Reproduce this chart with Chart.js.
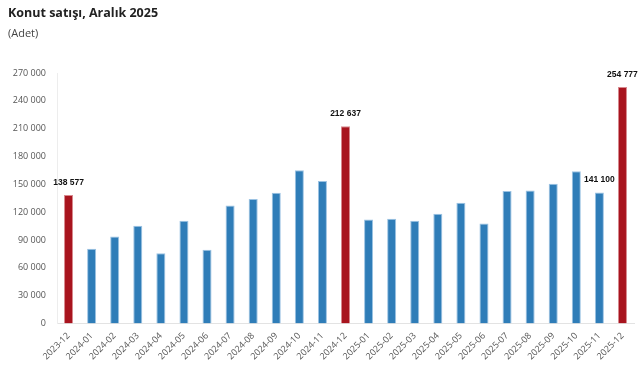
<!DOCTYPE html>
<html>
<head>
<meta charset="utf-8">
<script src="https://cdn.jsdelivr.net/npm/chart.js@4.4.1/dist/chart.umd.min.js"></script>
<style>
  html, body { margin: 0; padding: 0; background: #fff; }
  #wrap { position: relative; width: 640px; height: 369px; }
  #title { position: absolute; left: 8px; top: 4px; font: bold 12.5px "Open Sans", sans-serif; color: #222; white-space: nowrap; }
  #sub { position: absolute; left: 8px; top: 25px; font: 11px "Open Sans", sans-serif; color: #444; white-space: nowrap; }
  canvas { position: absolute; left: 0; top: 0; }
</style>
</head>
<body>
<div id="wrap">
  <canvas id="c" width="640" height="369"></canvas>
  <div id="title">Konut satışı, Aralık 2025</div>
  <div id="sub">(Adet)</div>
</div>
<script>
const categories = ["2023-12","2024-01","2024-02","2024-03","2024-04","2024-05","2024-06","2024-07","2024-08","2024-09","2024-10","2024-11","2024-12","2025-01","2025-02","2025-03","2025-04","2025-05","2025-06","2025-07","2025-08","2025-09","2025-10","2025-11","2025-12"];
const sales = [138577, 80500, 93800, 105400, 75600, 110800, 79600, 127300, 134100, 140900, 165300, 153500, 212637, 112200, 113000, 110800, 118300, 130200, 107900, 142700, 143400, 150600, 164200, 141100, 254777];
const labelledCategories = ["2023-12", "2024-12", "2025-11", "2025-12"];
const yTicks = [0, 30000, 60000, 90000, 120000, 150000, 180000, 210000, 240000, 270000];

function fmt(v) { return String(v).replace(/\B(?=(\d{3})+(?!\d))/g, ' '); }
const isDec = c => c.endsWith('-12');

const labelPlugin = {
  id: 'valueLabels',
  afterDatasetsDraw(chart) {
    const ctx = chart.ctx;
    const meta = chart.getDatasetMeta(0);
    ctx.save();
    ctx.font = 'bold 8.5px "Liberation Sans", Arial, sans-serif';
    ctx.fillStyle = '#111';
    ctx.textAlign = 'center';
    ctx.textBaseline = 'middle';
    meta.data.forEach((el, i) => {
      if (labelledCategories.includes(categories[i])) {
        ctx.fillText(fmt(sales[i]), el.x, el.y - 12.5);
      }
    });
    ctx.restore();
  }
};

new Chart(document.getElementById('c'), {
  type: 'bar',
  data: {
    labels: categories,
    datasets: [{
      data: sales,
      backgroundColor: categories.map(c => isDec(c) ? '#A8141E' : '#2F7DB8'),
      borderColor: categories.map(c => isDec(c) ? '#D88A8F' : '#9CC3E3'),
      borderWidth: 1,
      categoryPercentage: 0.8,
      barPercentage: 0.49
    }]
  },
  options: {
    responsive: false,
    animation: false,
    layout: { padding: { top: 73, right: 6, bottom: 0, left: 8 } },
    plugins: { legend: { display: false }, tooltip: { enabled: false } },
    scales: {
      x: {
        grid: { display: false, drawTicks: false },
        border: { display: true, color: '#E3E3E3' },
        ticks: {
          minRotation: 45, maxRotation: 45, autoSkip: false, padding: 7,
          color: '#555', font: { family: '"Open Sans", sans-serif', size: 9 }
        }
      },
      y: {
        min: 0, max: 270000,
        afterFit(s) { s.width = 49; },
        afterBuildTicks(s) { s.ticks = yTicks.map(v => ({ value: v })); },
        grid: { display: false, drawTicks: false },
        border: { display: true, color: '#EDEDED' },
        ticks: {
          padding: 11, color: '#555',
          font: { family: '"Open Sans", sans-serif', size: 9 },
          callback: v => fmt(v)
        }
      }
    }
  },
  plugins: [labelPlugin]
});
</script>
</body>
</html>
